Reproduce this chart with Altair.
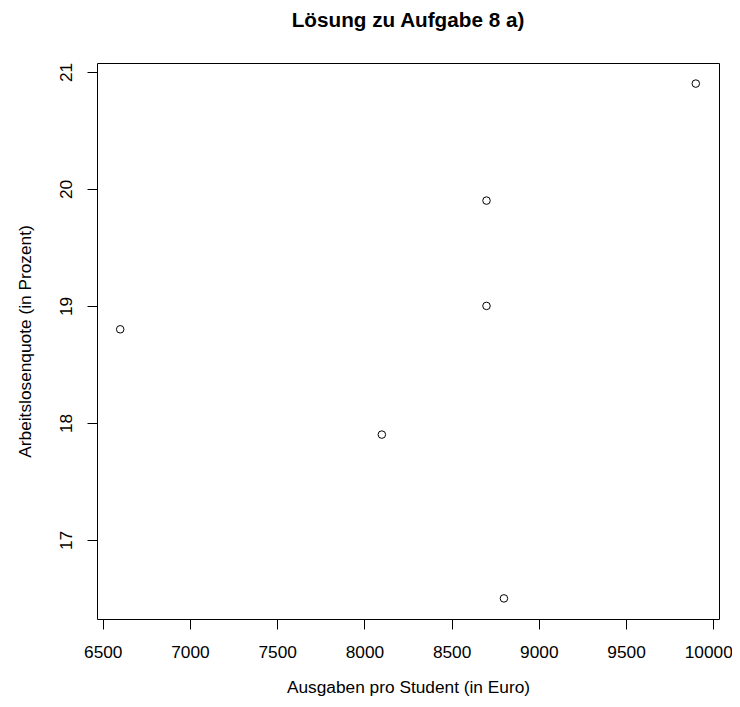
import altair as alt
import pandas as pd

# Data
ausgaben = [6600, 8100, 8700, 8700, 8800, 9900]
quote = [18.8, 17.9, 19.9, 19.0, 16.5, 20.9]

x_ticks = [6500, 7000, 7500, 8000, 8500, 9000, 9500, 10000]
y_ticks = [17, 18, 19, 20, 21]

df = pd.DataFrame({"Ausgaben": ausgaben, "Quote": quote})

FONT = "Liberation Sans"
AX_FS = 17.3

chart = (
    alt.Chart(df)
    .mark_point(shape="circle", filled=False, color="black", size=57, strokeWidth=1, opacity=1)
    .encode(
        x=alt.X(
            "Ausgaben:Q",
            scale=alt.Scale(domain=[6467, 10033], nice=False, zero=False),
            axis=alt.Axis(
                title="Ausgaben pro Student (in Euro)",
                values=x_ticks,
                format="d",
                grid=False,
                domain=False,
                ticks=True,
                tickSize=10,
                tickColor="black",
                tickWidth=1,
                labelFont=FONT,
                labelFontSize=AX_FS,
                labelColor="black",
                labelBaseline="top",
                labelPadding=14,
                labelOffset={"condition": {"test": "datum.value >= 10000", "value": -5}, "value": 0},
                labelFlush=False,
                labelOverlap=False,
                titleFont=FONT,
                titleFontSize=AX_FS,
                titleFontWeight="normal",
                titleColor="black",
                titleBaseline="alphabetic",
                titleY=73,
            ),
        ),
        y=alt.Y(
            "Quote:Q",
            scale=alt.Scale(domain=[16.324, 21.076], nice=False, zero=False),
            axis=alt.Axis(
                title="Arbeitslosenquote (in Prozent)",
                values=y_ticks,
                format="d",
                grid=False,
                domain=False,
                ticks=True,
                tickSize=10,
                tickColor="black",
                tickWidth=1,
                labelFont=FONT,
                labelFontSize=AX_FS,
                labelColor="black",
                labelAngle=270,
                labelAlign="center",
                labelBaseline="alphabetic",
                labelPadding=15.3,
                labelFlush=False,
                labelOverlap=False,
                titleFont=FONT,
                titleFontSize=AX_FS,
                titleFontWeight="normal",
                titleColor="black",
                titleAngle=270,
                titleBaseline="alphabetic",
                titleAlign="center",
                titleX=-67,
                titleY=278,
            ),
        ),
    )
    .properties(
        width=622,
        height=556,
        background="white",
        title=alt.TitleParams(
            text="Lösung zu Aufgabe 8 a)",
            font=FONT,
            fontSize=20.7,
            fontWeight="bold",
            color="black",
            anchor="middle",
            frame="group",
            baseline="alphabetic",
            offset=15,
        ),
        autosize=alt.AutoSizeParams(type="none"),
        padding={"left": 89, "top": 55, "right": 13, "bottom": 77},
    )
    .configure_view(stroke="black", strokeWidth=1)
)

chart.save("out.html", embed_options={"renderer": "svg", "actions": False})
